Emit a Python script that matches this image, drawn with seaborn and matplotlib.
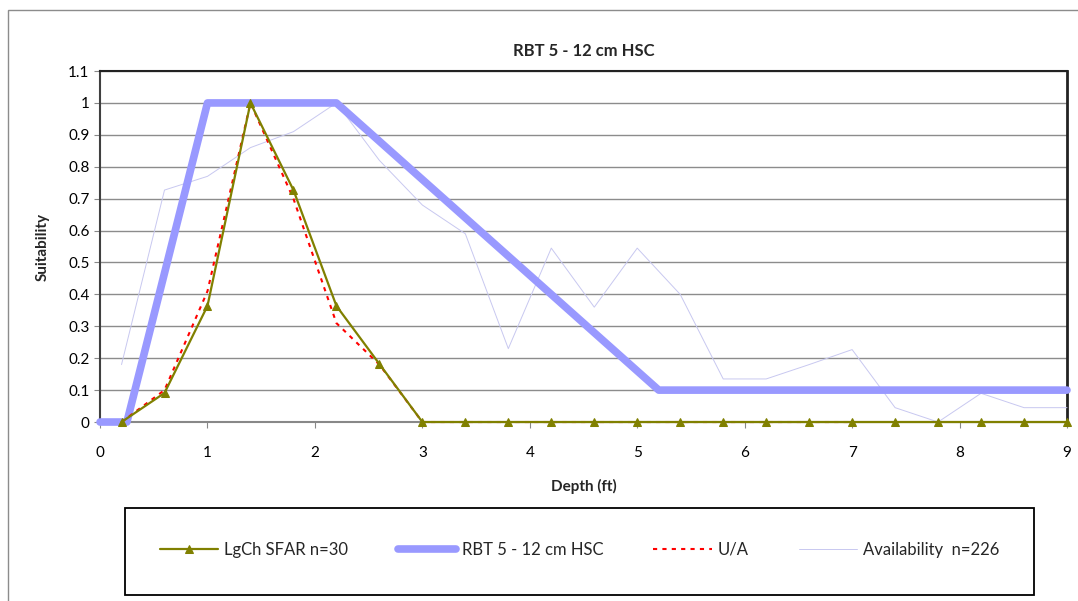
import numpy as np
import pandas as pd
import seaborn as sns
import matplotlib.pyplot as plt
from matplotlib.patches import Rectangle

# Depth points (ft) shared by observed series
depth = [0.2, 0.6, 1.0, 1.4, 1.8, 2.2, 2.6, 3.0, 3.4, 3.8, 4.2, 4.6,
         5.0, 5.4, 5.8, 6.2, 6.6, 7.0, 7.4, 7.8, 8.2, 8.6, 9.0]

lgch_sfar = [0, 0.091, 0.364, 1.0, 0.727, 0.364, 0.182, 0, 0, 0, 0, 0,
             0, 0, 0, 0, 0, 0, 0, 0, 0, 0, 0]
u_a = [0, 0.10, 0.41, 1.0, 0.70, 0.31, 0.18, 0, 0, 0, 0, 0,
       0, 0, 0, 0, 0, 0]
availability = [0.18, 0.727, 0.77, 0.86, 0.91, 1.0, 0.82, 0.68, 0.59, 0.23,
                0.545, 0.36, 0.545, 0.40, 0.135, 0.135, 0.18, 0.227, 0.045,
                0.0, 0.09, 0.045, 0.045]

# HSC curve breakpoints
hsc_depth = [0, 0.25, 1.0, 2.2, 5.2, 9.0]
hsc_value = [0, 0, 1.0, 1.0, 0.1, 0.1]

sns.set_style("white")
plt.rcParams['font.family'] = ['Lato', 'DejaVu Sans']

fig = plt.figure(figsize=(10.78, 6.01), dpi=100)
ax = fig.add_axes([0.0928, 0.2978, 0.897, 0.584])

avail_df = pd.DataFrame({'Depth': depth, 'Suit': availability})
hsc_df = pd.DataFrame({'Depth': hsc_depth, 'Suit': hsc_value})
lgch_df = pd.DataFrame({'Depth': depth, 'Suit': lgch_sfar})
ua_df = pd.DataFrame({'Depth': depth[:len(u_a)], 'Suit': u_a})

sns.lineplot(data=avail_df, x='Depth', y='Suit', ax=ax, color='#c8c8f0',
             linewidth=0.7, label='Availability  n=226', zorder=3, clip_on=False)
sns.lineplot(data=hsc_df, x='Depth', y='Suit', ax=ax, color='#9999ff',
             linewidth=5.5, label='RBT 5 - 12 cm HSC', zorder=4, clip_on=False)
sns.lineplot(data=lgch_df, x='Depth', y='Suit', ax=ax, color='#808000',
             linewidth=1.6, marker='^', markersize=6, markeredgecolor='#808000',
             label='LgCh SFAR n=30', zorder=6, clip_on=False)
sns.lineplot(data=ua_df, x='Depth', y='Suit', ax=ax, color='#ff0000',
             linewidth=1.5, linestyle=(0, (2, 2.5)), label='U/A', zorder=5,
             clip_on=False)

ax.set_xlim(0, 9)
ax.set_ylim(0, 1.1)
ax.set_xticks(range(0, 10))
ax.set_yticks(np.arange(0, 1.11, 0.1))
ax.set_yticklabels(['0', '0.1', '0.2', '0.3', '0.4', '0.5', '0.6', '0.7',
                    '0.8', '0.9', '1', '1.1'])
ax.tick_params(axis='both', labelsize=11, length=4, direction='out',
               left=True, bottom=True, color='#888888', labelcolor='black')
ax.tick_params(axis='x', pad=13)
ax.yaxis.grid(True, color='#8c8c8c', linewidth=1)
ax.set_axisbelow(True)
ax.spines['left'].set_color('#404040')
ax.spines['left'].set_linewidth(1.5)
ax.spines['bottom'].set_color('#888888')
ax.spines['bottom'].set_linewidth(1.5)
ax.spines['top'].set_color('#222222')
ax.spines['top'].set_linewidth(1.5)
ax.spines['right'].set_color('#222222')
ax.spines['right'].set_linewidth(2)

ax.set_title('RBT 5 - 12 cm HSC', fontsize=12, fontweight='bold', pad=11)
ax.set_xlabel('Depth (ft)', fontsize=11, fontweight='bold', labelpad=14)
ax.set_ylabel('Suitability', fontsize=11, fontweight='bold', labelpad=13)

ax.get_legend().remove()
handles, labels = ax.get_legend_handles_labels()
order = ['LgCh SFAR n=30', 'RBT 5 - 12 cm HSC', 'U/A', 'Availability  n=226']
hmap = dict(zip(labels, handles))
leg = fig.legend([hmap[k] for k in order], order, ncol=4,
                 bbox_to_anchor=(0.5375, 0.085), loc='center', fontsize=12,
                 frameon=False, handlelength=3.5, handletextpad=0.35,
                 columnspacing=3.0)

# legend box and outer chart frame
fig.patches.append(Rectangle((125 / 1078, 1 - 595 / 601), 909 / 1078, 87 / 601,
                             transform=fig.transFigure, fill=False,
                             edgecolor='black', linewidth=1.3))
fig.patches.append(Rectangle((8 / 1078, -0.01), 1.0, 1 - 10 / 601 + 0.01,
                             transform=fig.transFigure, fill=False,
                             edgecolor='#8c8c8c', linewidth=1))

fig.savefig('out.png', dpi=100)
